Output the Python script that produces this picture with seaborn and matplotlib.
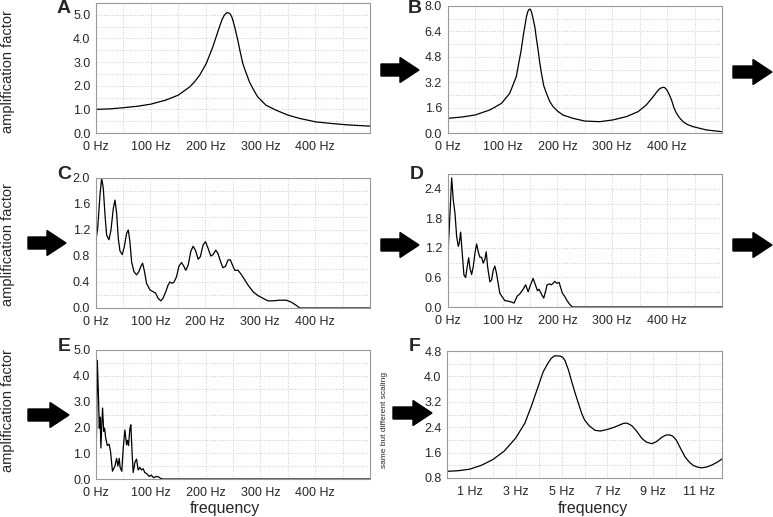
import numpy as np
import pandas as pd
import matplotlib.pyplot as plt
import seaborn as sns
from matplotlib.ticker import MultipleLocator, FuncFormatter
from matplotlib.patches import Polygon

# ***DATOS***

# A: una resonancia
a_hz = [0, 25, 50, 75, 100, 127, 150, 171, 180, 189, 201, 213, 225, 230, 234, 239, 242, 245,
        248, 250, 254, 259, 263, 268, 273, 280, 287, 295, 310, 328, 350, 371, 401, 431, 461, 500]
a_amp = [1.0, 1.02, 1.07, 1.13, 1.22, 1.39, 1.6, 1.95, 2.17, 2.44, 2.93, 3.63, 4.47, 4.8, 4.98,
         5.1, 5.08, 5.03, 4.9, 4.75, 4.4, 3.9, 3.45, 2.93, 2.6, 2.16, 1.85, 1.53, 1.18, 0.97, 0.76,
         0.62, 0.47, 0.4, 0.34, 0.29]

# B: dos resonancias
b_hz = [0, 25, 50, 77, 98, 113, 125, 134, 138, 143.6, 146, 148.5, 150.5, 152.7, 155, 158.8,
        161.5, 164.8, 167.5, 170.9, 175, 180, 186, 192, 200, 210, 228.5, 249.7, 277, 301, 326,
        347, 362, 374.5, 380, 385, 389, 392.7, 395.5, 398.8, 403, 408, 412.5, 417, 422, 429,
        437, 447, 471.5, 500]
b_amp = [0.94, 1.02, 1.15, 1.47, 1.88, 2.51, 3.56, 5.24, 6.2, 7.33, 7.65, 7.79, 7.8, 7.64, 7.3,
         6.7, 6.0, 5.24, 4.5, 3.77, 3.0, 2.51, 2.0, 1.68, 1.4, 1.15, 0.94, 0.77, 0.73, 0.84, 1.05,
         1.36, 1.78, 2.3, 2.55, 2.76, 2.85, 2.89, 2.87, 2.76, 2.5, 2.09, 1.6, 1.26, 1.0, 0.73,
         0.55, 0.42, 0.21, 0.1]

# C
c_hz = [0, 4, 8.2, 11.2, 14.2, 17.3, 20.3, 24.5, 28.2, 32.4, 35.5, 38.5, 41.5, 44.5, 48.7, 52.4,
        56.7, 59.7, 62.7, 65.8, 70, 74.8, 79, 82.7, 85.8, 88.8, 93, 99, 105, 109.4, 114, 119, 123,
        128, 132, 135.5, 139.7, 143, 147.6, 151.8, 156.7, 161, 164.5, 168.8, 173.6, 177.8, 182,
        187, 191, 196, 200.3, 205, 210, 214, 219, 223, 228, 232, 236.7, 241.5, 245.7, 249.5,
        253.6, 259.7, 266, 272, 278, 287, 296, 305, 314, 323, 335, 347.6, 356.7, 365.8, 372, 500]
c_amp = [0.99, 1.23, 1.74, 2.0, 1.84, 1.43, 1.12, 1.05, 1.2, 1.53, 1.66, 1.46, 1.07, 0.88, 0.82,
         0.94, 1.15, 1.2, 1.02, 0.71, 0.56, 0.51, 0.56, 0.64, 0.69, 0.58, 0.38, 0.28, 0.25, 0.23,
         0.15, 0.11, 0.15, 0.25, 0.35, 0.4, 0.38, 0.4, 0.48, 0.64, 0.7, 0.64, 0.58, 0.66, 0.87,
         0.95, 0.89, 0.75, 0.79, 0.97, 1.02, 0.92, 0.8, 0.82, 0.89, 0.84, 0.71, 0.62, 0.64, 0.74,
         0.74, 0.66, 0.58, 0.58, 0.51, 0.43, 0.35, 0.25, 0.19, 0.15, 0.11, 0.11, 0.12, 0.12, 0.09,
         0.04, 0.0, 0.0]

# D
d_hz = [0, 3, 7.2, 10.2, 13.3, 16.3, 19.3, 21, 23.6, 26, 29.6, 32.7, 35.6, 38.2, 40.5, 43.6, 46.6,
        49.6, 52.7, 55.7, 58.7, 61.8, 64.8, 67.8, 70.2, 72.7, 76.9, 80, 83, 86, 89, 92, 95, 101,
        104, 110, 116.4, 121, 126.6, 131, 137.5, 142, 146.6, 151, 155.7, 160.5, 163.6, 166.6,
        170.9, 175, 178.7, 181, 186, 189, 192, 195, 199, 203, 205.5, 209, 213, 217.5, 222, 227, 500]
d_amp = [0.99, 1.63, 2.62, 2.17, 1.9, 1.43, 1.23, 1.29, 1.52, 1.16, 0.65, 0.6, 0.82, 1.0, 0.79,
         0.66, 0.82, 1.09, 1.28, 1.12, 1.01, 1.01, 0.89, 0.97, 1.12, 0.82, 0.51, 0.55, 0.75, 0.83,
         0.68, 0.48, 0.28, 0.18, 0.13, 0.12, 0.1, 0.08, 0.22, 0.26, 0.36, 0.45, 0.31, 0.45, 0.58,
         0.43, 0.33, 0.36, 0.26, 0.18, 0.33, 0.45, 0.47, 0.45, 0.48, 0.52, 0.48, 0.5, 0.41, 0.28,
         0.22, 0.13, 0.06, 0.0, 0.0]

# E
e_hz = [0, 1.2, 2.4, 4.8, 6, 7.5, 9, 10.3, 12, 14, 15.7, 17.6, 20.6, 24, 26.6, 30, 34.5, 37.6, 40,
        42.4, 44, 47, 49.7, 52.7, 55.8, 57.5, 59.4, 61.8, 63.6, 66, 67.9, 71, 74, 77, 80, 83, 86,
        89, 93, 97, 101, 105, 110, 114.5, 117.5, 121, 500]
e_amp = [1.0, 2.0, 4.6, 3.0, 1.97, 2.4, 1.2, 2.0, 2.75, 1.85, 1.97, 1.6, 1.3, 1.35, 1.05, 0.3, 0.5,
         0.8, 0.5, 0.8, 0.45, 0.3, 1.2, 1.9, 1.32, 1.5, 1.3, 1.95, 2.1, 0.95, 0.25, 0.65, 0.77,
         0.35, 0.45, 0.35, 0.4, 0.25, 0.2, 0.1, 0.15, 0.05, 0.1, 0.08, 0.03, 0.0, 0.0]

# F: misma curva con otra escala
f_hz = [0, 0.5, 1, 1.5, 2, 2.5, 3, 3.4, 3.7, 4, 4.2, 4.4, 4.55, 4.7, 4.93, 5.05, 5.15, 5.3, 5.44,
        5.58, 5.73, 5.87, 6, 6.2, 6.46, 6.7, 7, 7.3, 7.5, 7.7, 7.85, 8.06, 8.25, 8.5, 8.7, 8.94,
        9.15, 9.37, 9.55, 9.7, 9.85, 10, 10.2, 10.4, 10.6, 10.76, 10.95, 11.12, 11.35, 11.56,
        11.8, 12]
f_amp = [1.01, 1.03, 1.08, 1.2, 1.38, 1.65, 2.06, 2.53, 3.1, 3.73, 4.15, 4.41, 4.57, 4.65, 4.64,
         4.6, 4.5, 4.2, 3.84, 3.5, 3.16, 2.85, 2.63, 2.45, 2.3, 2.28, 2.33, 2.4, 2.46, 2.52, 2.53,
         2.45, 2.3, 2.05, 1.93, 1.88, 1.95, 2.08, 2.15, 2.16, 2.12, 2.0, 1.72, 1.45, 1.28, 1.19,
         1.14, 1.12, 1.15, 1.21, 1.3, 1.4]

letras = ['A', 'B', 'C', 'D', 'E', 'F']

# ***FUNCIONES***

W, H = 773, 517


def px(l, t, r, b):
    # rectangulo en pixeles -> fraccion de figura
    return [l / W, 1 - b / H, (r - l) / W, (b - t) / H]


def flecha(fig, x0, x1, yc):
    xh = x1 - 19
    pts = [(x0, yc - 6), (xh, yc - 6), (xh, yc - 12.5), (x1, yc), (xh, yc + 12.5),
           (xh, yc + 6), (x0, yc + 6)]
    pts = [(x / W, 1 - y / H) for x, y in pts]
    fig.add_artist(Polygon(pts, closed=True, color='black', transform=fig.transFigure))


def panel(ax, x, y, ylim, ymaj, xlim=(0, 500), xmaj=100, xmin=50, xlast=400):
    df = pd.DataFrame({'x': x, 'y': y})
    sns.lineplot(data=df, x='x', y='y', ax=ax, color='black', linewidth=0.9,
                 estimator=None, sort=True)
    ax.set_xlim(*xlim)
    ax.set_ylim(*ylim)
    ax.set_xlabel('')
    ax.set_ylabel('')
    ax.xaxis.set_major_locator(MultipleLocator(xmaj))
    ax.xaxis.set_minor_locator(MultipleLocator(xmin))
    ax.yaxis.set_major_locator(MultipleLocator(ymaj))
    ax.yaxis.set_minor_locator(MultipleLocator(ymaj / 2))
    ax.xaxis.set_major_formatter(FuncFormatter(
        lambda v, p: f'{v:.0f} Hz' if v <= xlast + 1e-6 else ''))
    ax.yaxis.set_major_formatter(FuncFormatter(lambda v, p: f'{v:.1f}'))
    ax.grid(True, which='both', linestyle=':', color='#cccccc', linewidth=0.7)
    ax.tick_params(axis='x', which='major', length=0, pad=5.5, labelsize=9)
    ax.tick_params(axis='x', which='minor', length=3, color='#999999')
    ax.tick_params(axis='y', which='both', length=3, color='#999999', pad=1, labelsize=9)
    for s in ax.spines.values():
        s.set_color('#999999')
        s.set_linewidth(0.8)


# ***FIGURA***

sns.set_theme(style='white')
plt.rcParams['font.family'] = ['Liberation Sans', 'DejaVu Sans']

fig = plt.figure(figsize=(7.73, 5.17), dpi=100)

axA = fig.add_axes(px(96, 3, 370, 133))
panel(axA, a_hz, a_amp, (0, 5.5), 1.0)
axB = fig.add_axes(px(447.7, 6, 722, 133.3))
panel(axB, b_hz, b_amp, (0, 8.0), 1.6)
axC = fig.add_axes(px(95.5, 178, 370, 308))
panel(axC, c_hz, c_amp, (0, 2.0), 0.4)
axD = fig.add_axes(px(447.7, 174, 722, 307))
panel(axD, d_hz, d_amp, (0, 2.7), 0.6)
axE = fig.add_axes(px(96, 350, 370, 479))
panel(axE, e_hz, e_amp, (0, 5.0), 1.0)
axF = fig.add_axes(px(447, 351, 722, 478))
panel(axF, f_hz, f_amp, (0.8, 4.8), 0.8, xlim=(0, 12), xmaj=2, xmin=1, xlast=12)
# F: etiquetas en las frecuencias impares
axF.xaxis.set_major_locator(MultipleLocator(2, offset=1))
axF.xaxis.set_minor_locator(MultipleLocator(1))
axF.xaxis.set_major_formatter(FuncFormatter(lambda v, p: f'{v:.0f} Hz'))

# letras de los paneles
for letra, (x, y) in zip(letras, [(57, 0), (408, 0), (57, 166), (410, 166), (58, 338), (409, 338)]):
    fig.text(x / W, 1 - y / H, letra, fontsize=14, fontweight='bold', ha='left', va='top')

# ejes y
for yc in [72, 245, 411]:
    fig.text(8 / W, 1 - yc / H, 'amplification factor', rotation=90, fontsize=10.5,
             ha='center', va='center')
fig.text(384 / W, 1 - 420 / H, 'same but different scaling', rotation=90, fontsize=6,
         ha='center', va='center')
fig.text(225 / W, 1 - 508 / H, 'frequency', fontsize=11.5, ha='center', va='center')
fig.text(593 / W, 1 - 508 / H, 'frequency', fontsize=11.5, ha='center', va='center')

# flechas
flecha(fig, 381, 419, 70)
flecha(fig, 733, 772, 72)
flecha(fig, 28, 66, 243)
flecha(fig, 381, 419, 245)
flecha(fig, 733, 772, 245)
flecha(fig, 28, 69, 415)
flecha(fig, 393, 432, 413)

fig.savefig('out.png', dpi=100)
